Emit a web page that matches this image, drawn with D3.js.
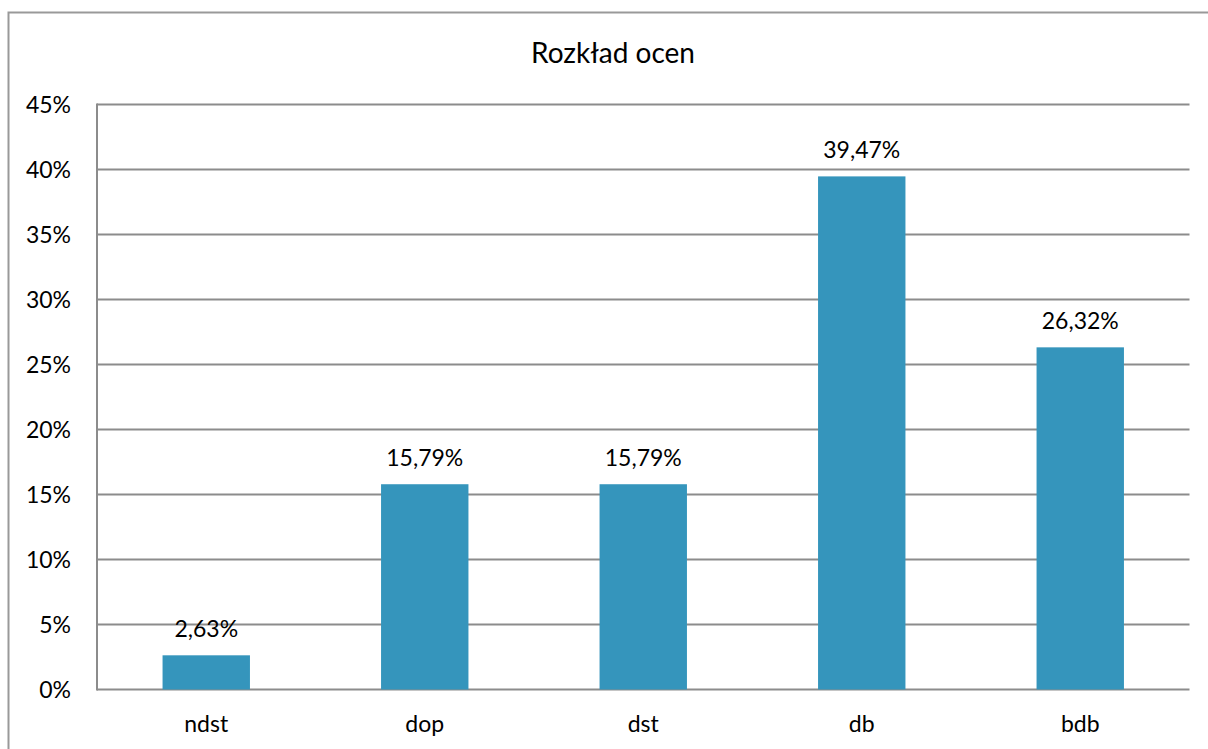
<!DOCTYPE html>
<html><head><meta charset="utf-8">
<script src="https://cdn.jsdelivr.net/npm/d3@7"></script>
<style>body{margin:0;background:#fff;}svg{display:block;}</style>
</head><body>
<script>
const categories = ["ndst","dop","dst","db","bdb"];
const values = [2.63, 15.79, 15.79, 39.47, 26.32];
const valueLabels = ["2,63%","15,79%","15,79%","39,47%","26,32%"];
const yTicks = [0,5,10,15,20,25,30,35,40,45];
const title = "Rozkład ocen";

(function () {
const W = 1208, H = 749;
const font = "Lato, 'Noto Sans', sans-serif";
const fs = 23;
const svg = d3.select("body").append("svg").attr("width", W).attr("height", H);

// outer frame
svg.append("rect").attr("x", 8.5).attr("y", 12.5).attr("width", W + 10).attr("height", H + 10)
  .attr("fill", "none").attr("stroke", "#999").attr("stroke-width", 2);

const pLeft = 97, pRight = 1189.5, pTop = 104.5, pBottom = 689.5;
const x = d3.scaleBand().domain(categories).range([pLeft, pRight]).paddingInner(0.6).paddingOuter(0.3);
const y = d3.scaleLinear().domain([0, 45]).range([pBottom, pTop]);

// gridlines
svg.append("g").selectAll("line").data(yTicks).join("line")
  .attr("x1", pLeft).attr("x2", pRight)
  .attr("y1", d => y(d)).attr("y2", d => y(d))
  .attr("stroke", "#8c8c8c").attr("stroke-width", 2);

// y axis line
svg.append("line").attr("x1", pLeft).attr("x2", pLeft).attr("y1", pTop - 1).attr("y2", pBottom + 1)
  .attr("stroke", "#8c8c8c").attr("stroke-width", 2);

// y labels
svg.append("g").selectAll("text").data(yTicks).join("text")
  .attr("x", 71).attr("y", d => y(d)).attr("dy", "0.36em")
  .attr("text-anchor", "end").attr("font-family", font).attr("font-size", fs).attr("fill", "#000")
  .text(d => d + "%");

// bars
svg.append("g").selectAll("rect").data(values).join("rect")
  .attr("x", (d, i) => x(categories[i])).attr("width", x.bandwidth())
  .attr("y", d => y(d)).attr("height", d => y(0) - y(d))
  .attr("fill", "#3595bc");

// value labels
svg.append("g").selectAll("text").data(values).join("text")
  .attr("x", (d, i) => x(categories[i]) + x.bandwidth() / 2)
  .attr("y", d => y(d) - 18)
  .attr("text-anchor", "middle").attr("font-family", font).attr("font-size", fs).attr("fill", "#000")
  .text((d, i) => valueLabels[i]);

// x labels
svg.append("g").selectAll("text").data(categories).join("text")
  .attr("x", d => x(d) + x.bandwidth() / 2).attr("y", 732)
  .attr("text-anchor", "middle").attr("font-family", font).attr("font-size", fs).attr("fill", "#000")
  .text(d => d);

// title
svg.append("text").attr("x", 613).attr("y", 63).attr("text-anchor", "middle")
  .attr("font-family", font).attr("font-size", 28).attr("fill", "#000").text(title);
})();
</script>
</body></html>
